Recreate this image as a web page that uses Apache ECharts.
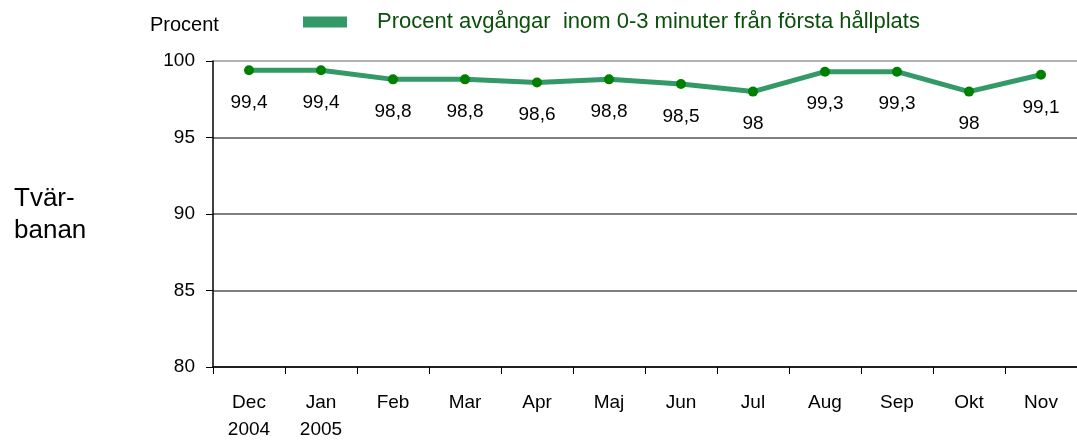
<!DOCTYPE html>
<html>
<head>
<meta charset="UTF-8">
<style>
  body { margin: 0; background: #fff; }
  #chart { width: 1077px; height: 443px; }
</style>
<script src="https://cdn.jsdelivr.net/npm/echarts@6/dist/echarts.min.js"></script>
</head>
<body>
<div id="chart"></div>
<script>
  // månader (Dec 2004 - Nov 2005)
  var months = ['Dec\n2004', 'Jan\n2005', 'Feb', 'Mar', 'Apr', 'Maj', 'Jun', 'Jul', 'Aug', 'Sep', 'Okt', 'Nov'];
  var values = [99.4, 99.4, 98.8, 98.8, 98.6, 98.8, 98.5, 98.0, 99.3, 99.3, 98.0, 99.1];
  var seriesName = 'Procent avgångar  inom 0-3 minuter från första hållplats';

  var font = "'Liberation Sans', Arial, sans-serif";
  var chart = echarts.init(document.getElementById('chart'));

  chart.setOption({
    animation: false,
    textStyle: { fontFamily: font },
    grid: { left: 213, top: 61, width: 874, height: 310 },
    legend: {
      left: 303, top: 11, padding: 0,
      icon: 'rect', itemWidth: 44, itemHeight: 11,
      data: [{ name: seriesName, itemStyle: { color: '#339966' } }],
      textStyle: { color: '#0b4f0b', fontSize: 22, padding: [0, 0, 0, 25] }
    },
    graphic: [
      { type: 'text', left: 150, top: 15, style: { text: 'Procent', font: '20px ' + font, fill: '#000' } },
      { type: 'text', left: 14, top: 183, style: { text: 'Tvär-\nbanan', font: '26px ' + font, fill: '#000', lineHeight: 32, align: 'left' } }
    ],
    xAxis: {
      type: 'category',
      data: months,
      boundaryGap: true,
      axisLine: { lineStyle: { color: '#000', width: 1.5 } },
      axisTick: { show: true, interval: 0, length: 7, lineStyle: { color: '#000' } },
      axisLabel: { interval: 0, color: '#000', fontSize: 19, margin: 22, lineHeight: 27 }
    },
    yAxis: {
      type: 'value',
      min: 80, max: 100, interval: 5,
      axisLine: { show: true, lineStyle: { color: '#000', width: 1.5 } },
      axisTick: { show: true, length: 7, lineStyle: { color: '#000' } },
      axisLabel: { color: '#000', fontSize: 19, margin: 18 },
      splitLine: { lineStyle: { color: ['#555', '#555', '#555', '#555', '#999'], width: 1.5 } }
    },
    series: [{
      name: seriesName,
      type: 'line',
      data: values,
      symbol: 'circle',
      symbolSize: 10,
      lineStyle: { color: '#339966', width: 5 },
      itemStyle: { color: '#008000' },
      label: {
        show: true, position: 'bottom', distance: 18,
        color: '#000', fontSize: 19,
        formatter: function (p) { return String(p.value).replace('.', ','); }
      }
    }]
  });
</script>
</body>
</html>
